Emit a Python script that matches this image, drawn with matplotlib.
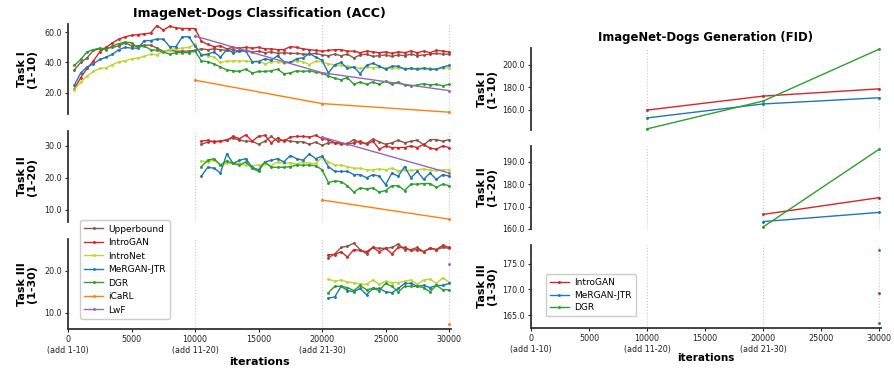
import numpy as np
import matplotlib
matplotlib.use("Agg")
import matplotlib.pyplot as plt

# ---- data ----
it1 = np.arange(500, 30001, 500)     # task I curves
it2 = np.arange(10500, 30001, 500)   # task II curves
it3 = np.arange(20500, 30001, 500)   # task III curves
stages = [10000, 20000, 30000]

acc1_upper = [35, 40, 43, 48, 49, 49.5, 50, 51, 53, 51, 51, 51.5, 51.5, 49.5, 47.5, 48, 47.5, 47.5, 47.5, 48,
              49, 48.5, 49, 48.5, 48, 48.5, 47.5, 48, 47, 47.5, 46.5, 47, 46, 46.5, 46, 46, 45.5, 45.5, 46, 45,
              44.5, 45.5, 44.5, 45.5, 43, 45, 45.5, 44, 44.5, 45, 44, 45, 44.5, 45.5, 44.5, 45, 45.5, 46, 45.5, 45.5]
acc1_introgan = [22.5, 30, 36, 41, 47, 50, 53, 55.5, 57, 58, 58.5, 59, 59.5, 64.5, 61.5, 64, 63, 62.5, 62.5, 62.5,
                 54, 52, 50.5, 51, 49, 50, 49.5, 50, 49.5, 50, 49, 49, 48.5, 48.5, 50.5, 50, 49, 48.5, 48, 47.5,
                 48, 48.5, 48.5, 47.5, 47.5, 46.5, 47.5, 47, 46.5, 47, 46, 47, 46.5, 47.5, 46.5, 47.5, 46.5, 48, 47.5, 47]
acc1_intronet = [22, 27, 31, 34, 36, 36.5, 38.5, 40.5, 41, 42.5, 43, 44, 45.5, 45, 47.5, 48.5, 49, 49.5, 50, 52,
                 45, 44.5, 43.5, 40, 41, 41, 41, 41, 40.5, 41, 39, 40.5, 40.5, 39.5, 40, 41, 40.5, 38.5, 41, 40.5,
                 39, 38.5, 38, 37.5, 37, 36, 37, 36.5, 37, 36.5, 36, 36.5, 36, 36, 36, 36.5, 36, 35.5, 36, 36.5]
acc1_mergan = [25, 33, 37, 39, 42, 43.5, 45.5, 48.5, 50, 49.5, 49.5, 54.5, 54.5, 55.5, 55.5, 50.5, 50.5, 57, 57, 51,
               45, 45.5, 47, 43.5, 48.5, 46.5, 47.5, 47.5, 40.5, 40.5, 42.5, 41.5, 44.5, 40.5, 40, 42.5, 43, 46, 43.5, 41.5,
               33, 38.5, 40, 36, 37, 32.5, 38, 39.5, 37.5, 35.5, 37.5, 37.5, 35.5, 36, 35.5, 36, 35.5, 35.5, 37, 38]
acc1_dgr = [38, 42, 47, 48.5, 49.5, 48.5, 51, 52.5, 53.5, 53, 50, 51, 48.5, 48, 47, 45.5, 46.5, 46.5, 46.5, 47.5,
            41, 40.5, 39, 37, 35, 34.5, 34, 35.5, 33, 34, 34, 34.5, 35.5, 32.5, 33, 34.5, 34, 34.5, 33.5, 33,
            31, 29.5, 28.5, 30, 25.5, 27, 25.5, 27, 25.5, 27.5, 25.5, 27, 25, 24.5, 25, 26, 25, 25.5, 24.5, 25.5]
acc1_icarl = [28.2, 12.7, 7.0]
acc1_lwf = [57.5, 33.2, 21.3]

acc2_upper = [30.5, 31.2, 31.5, 31.5, 32, 32.5, 31.8, 31.5, 31.5, 30.5, 31.5, 33, 31.5, 31.8, 31.5, 31.3, 31.3, 30.5, 31.2, 30.2,
              31, 31, 30.5, 30.8, 32, 31, 30.8, 32.2, 31.3, 30.5, 31, 31.8, 31, 31.5, 31.8, 30.3, 32, 32, 31.5, 32]
acc2_introgan = [31.5, 31.8, 31.2, 31.5, 31.8, 33, 32.3, 33.5, 31.5, 33, 33.3, 31, 32.5, 31.5, 32.8, 33, 33, 32.8, 33.3, 32.3,
                 32, 31, 31, 30.5, 31, 31.5, 30.5, 31.5, 29, 30, 29.5, 29.5, 29.5, 30, 29.5, 30.5, 29.3, 29, 30, 29.5]
acc2_intronet = [25.3, 25, 25.5, 24, 24.5, 24.5, 24.5, 24, 23.8, 24, 24.3, 23.8, 25, 24.5, 24.8, 24.3, 25, 24.5, 24.5, 26.5,
                 25, 24, 24, 23.5, 23, 23, 22.5, 22.5, 22.8, 22.5, 23, 22.2, 22.5, 22.3, 22.5, 22.8, 22.3, 22.3, 22.5, 22.5]
acc2_mergan = [20.5, 23.3, 23, 21.5, 27.5, 24.5, 25.5, 26, 23.3, 22.5, 25, 25.5, 26, 25, 27, 26, 25.5, 27.5, 26, 26.8,
               23.5, 22, 22, 22, 21, 21, 20, 21, 20.5, 17.8, 21.5, 20.5, 23.5, 20, 22, 19.5, 21.5, 19.5, 21, 20.5]
acc2_dgr = [23.5, 25.5, 26, 24, 25.3, 24.5, 24, 25, 23, 22, 25, 23.3, 23.3, 23.3, 23.5, 24, 24, 24, 23.8, 22.5,
            18.5, 19, 18.8, 17.5, 15.5, 16.8, 16.5, 16.8, 15.5, 16, 17.5, 17.5, 16, 18, 18, 18.2, 18.2, 17, 18, 17.5]
acc2_icarl = [13.0, 7.0]
acc2_lwf = [32.8, 21.5]

acc3_upper = [23, 24, 25.5, 25.8, 26.5, 25, 24, 25.5, 25.3, 25.3, 25.5, 26.3, 25, 25, 25.5, 24.5, 25.3, 25, 25.5, 25.3]
acc3_introgan = [23.8, 23.8, 24.5, 23.2, 25, 24.8, 24.5, 25.5, 24.5, 25.3, 24, 25.5, 25.5, 24.8, 25, 24.5, 25.3, 25, 26, 25.5]
acc3_intronet = [18, 17.5, 17.8, 17.3, 17.2, 16.8, 16.8, 17.8, 16.8, 17.5, 17.2, 17.2, 17.5, 17.8, 16.8, 17.8, 18, 17, 18.3, 17.3]
acc3_mergan = [13.5, 13.8, 16.3, 15.3, 15, 15.8, 14.3, 15.8, 15.8, 15, 14.8, 15.8, 17, 17, 16.3, 16.5, 16, 16.5, 16.5, 17]
acc3_dgr = [14.8, 16.3, 16.3, 16, 15.3, 16.5, 15.5, 15.8, 15.3, 17, 16.3, 15, 16.3, 16.3, 16.3, 16, 15, 16.5, 15.5, 15.5]
acc3_icarl = [7.3]
acc3_lwf = [21.5]

fid1_introgan = [159.5, 172.0, 178.5]
fid1_mergan = [152.5, 165.0, 170.5]
fid1_dgr = [142.7, 167.6, 214.0]
fid2_introgan = [166.5, 174.0]
fid2_mergan = [163.3, 167.4]
fid2_dgr = [160.9, 195.6]
fid3_introgan = [169.3]
fid3_mergan = [163.4]
fid3_dgr = [177.6]

c_upper = '#8c564b'
c_introgan = '#d62728'
c_intronet = '#bfd62e'
c_mergan = '#1f77b4'
c_dgr = '#2ca02c'
c_icarl = '#ff7f0e'
c_lwf = '#9467bd'

W, H = 894, 373
fig = plt.figure(figsize=(W / 100, H / 100), dpi=100)

def box(x0, y0, x1, y1):
    return [x0 / W, 1 - y1 / H, (x1 - x0) / W, (y1 - y0) / H]

left_axes = [fig.add_axes(box(68, 24, 451, 114)),
             fig.add_axes(box(68, 131, 451, 222)),
             fig.add_axes(box(68, 239, 451, 329))]
right_axes = [fig.add_axes(box(531, 48, 881, 130)),
              fig.add_axes(box(531, 146, 881, 229)),
              fig.add_axes(box(531, 245, 881, 328))]

kw = dict(marker='.', markersize=2.2, lw=1.0)

def draw_acc(ax, its, up, ig, inet, mg, dg, ic, lw):
    st = stages[-len(ic):]
    ax.plot(its, up, color=c_upper, label='Upperbound', **kw)
    ax.plot(its, ig, color=c_introgan, label='IntroGAN', **kw)
    ax.plot(its, inet, color=c_intronet, label='IntroNet', **kw)
    ax.plot(its, mg, color=c_mergan, label='MeRGAN-JTR', **kw)
    ax.plot(its, dg, color=c_dgr, label='DGR', **kw)
    ax.plot(st, ic, color=c_icarl, label='iCaRL', **kw)
    ax.plot(st, lw, color=c_lwf, label='LwF', **kw)

draw_acc(left_axes[0], it1, acc1_upper, acc1_introgan, acc1_intronet, acc1_mergan, acc1_dgr, acc1_icarl, acc1_lwf)
draw_acc(left_axes[1], it2, acc2_upper, acc2_introgan, acc2_intronet, acc2_mergan, acc2_dgr, acc2_icarl, acc2_lwf)
draw_acc(left_axes[2], it3, acc3_upper, acc3_introgan, acc3_intronet, acc3_mergan, acc3_dgr, acc3_icarl, acc3_lwf)

def draw_fid(ax, ig, mg, dg):
    st = stages[-len(ig):]
    ax.plot(st, ig, color=c_introgan, label='IntroGAN', **kw)
    ax.plot(st, mg, color=c_mergan, label='MeRGAN-JTR', **kw)
    ax.plot(st, dg, color=c_dgr, label='DGR', **kw)

draw_fid(right_axes[0], fid1_introgan, fid1_mergan, fid1_dgr)
draw_fid(right_axes[1], fid2_introgan, fid2_mergan, fid2_dgr)
draw_fid(right_axes[2], fid3_introgan, fid3_mergan, fid3_dgr)

left_ylims = [(5.8, 65.5), (6.1, 34.7), (6.2, 27.5)]
left_yticks = [[20, 40, 60], [10, 20, 30], [10, 20]]
right_ylims = [(141.7, 215), (160, 197), (162.5, 178.6)]
right_yticks = [[160, 180, 200], [160, 170, 180, 190], [165, 170, 175]]
task_names = ['Task I\n(1-10)', 'Task II\n(1-20)', 'Task III\n(1-30)']
xticks = [0, 5000, 10000, 15000, 20000, 25000, 30000]
xticklabels = ['0\n(add 1-10)', '5000', '10000\n(add 11-20)', '15000', '20000\n(add 21-30)', '25000', '30000']

panels = [(left_axes, left_ylims, left_yticks, -0.081, 8.0, 8.0, -0.311),
          (right_axes, right_ylims, right_yticks, -0.097, 8.0, 7.5, -0.307)]
for axes, ylims, yticks, lx, lab_fs, xl_fs, xl_y in panels:
    for i, ax in enumerate(axes):
        for s in stages:
            ax.axvline(s, color='#c8c8c8', ls=':', lw=0.8, zorder=0)
        ax.set_xlim(0, 30150)
        ax.set_ylim(*ylims[i])
        ax.set_yticks(yticks[i])
        ax.set_yticklabels(['%.1f' % v for v in yticks[i]])
        ax.tick_params(labelsize=5.8, length=2.5, width=0.8, pad=2, colors='#222222')
        ax.spines['top'].set_visible(False)
        ax.spines['right'].set_visible(False)
        ax.spines['left'].set_linewidth(1.3)
        ax.spines['left'].set_color('#333333')
        ax.spines['bottom'].set_color('#333333')
        ax.set_ylabel(task_names[i], fontsize=lab_fs, fontweight='bold', linespacing=0.95)
        ax.yaxis.set_label_coords(lx, 0.5)
        if i < 2:
            ax.spines['bottom'].set_visible(False)
            ax.set_xticks([])
        else:
            ax.set_xticks(xticks)
            ax.set_xticklabels(xticklabels, linespacing=1.2)
            ax.spines['bottom'].set_linewidth(1.3)
            ax.set_xlabel('iterations', fontsize=xl_fs, fontweight='bold')
            ax.xaxis.set_label_coords(0.5, xl_y)

left_axes[0].set_title('ImageNet-Dogs Classification (ACC)', fontsize=9.1, fontweight='bold', pad=5)
right_axes[0].set_title('ImageNet-Dogs Generation (FID)', fontsize=8.4, fontweight='bold', pad=5)

leg_kw = dict(loc='upper left', fontsize=6.5, borderaxespad=0, labelspacing=0.5, handlelength=2.1,
              handletextpad=0.6, borderpad=0.45, framealpha=1, edgecolor='#cccccc')
h, l = left_axes[2].get_legend_handles_labels()
fig.legend(h, l, bbox_to_anchor=(80 / W, 1 - 220.5 / H), **leg_kw)
h, l = right_axes[2].get_legend_handles_labels()
leg_kw['labelspacing'] = 0.4
fig.legend(h, l, bbox_to_anchor=(545.5 / W, 1 - 274 / H), **leg_kw)

fig.savefig('out.png', dpi=100)
